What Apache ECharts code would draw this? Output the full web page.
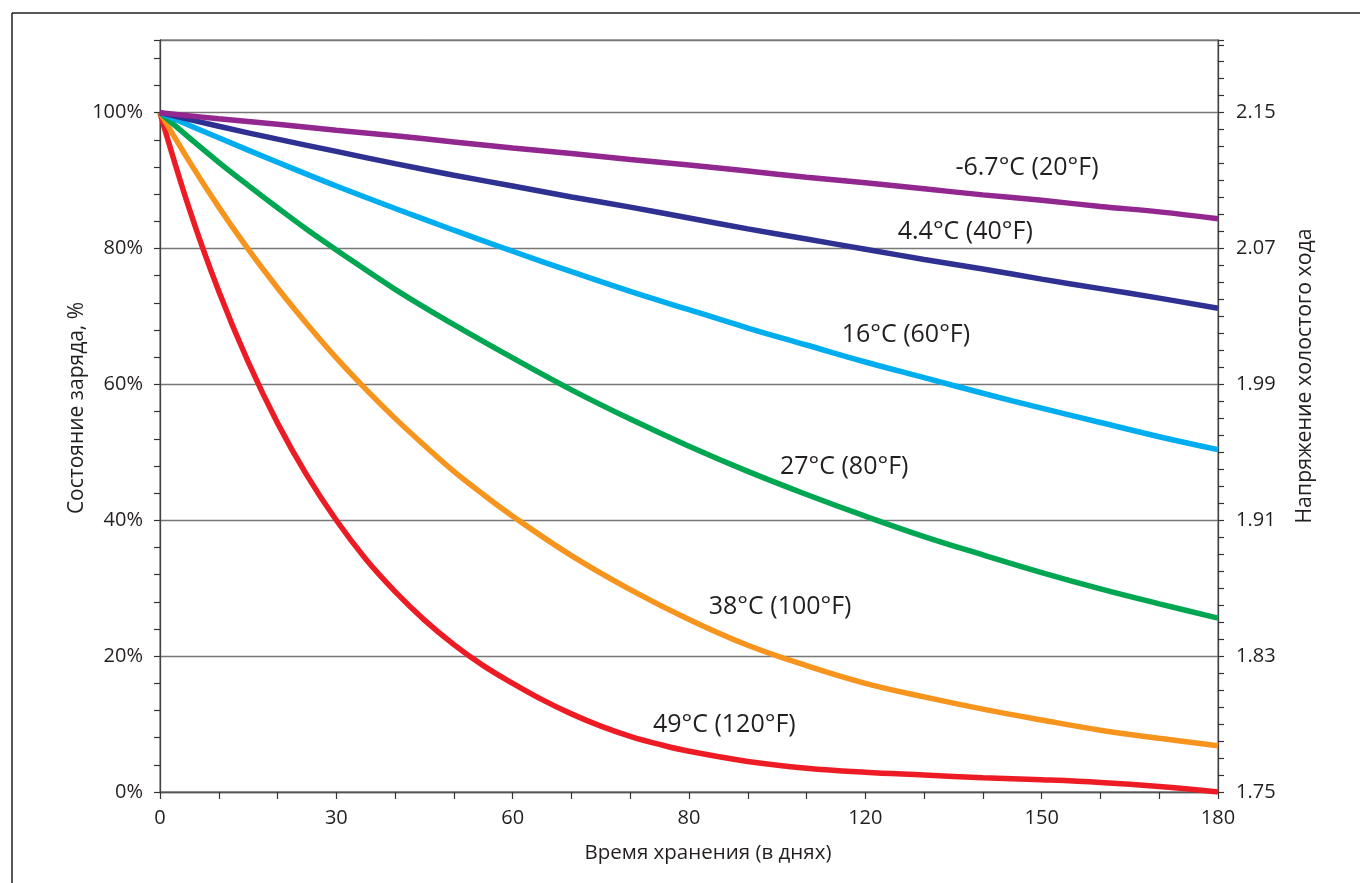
<!DOCTYPE html>
<html>
<head>
<meta charset="utf-8">
<script src="https://cdn.jsdelivr.net/npm/echarts@6/dist/echarts.min.js"></script>
<style>
html,body{margin:0;padding:0;background:#fff;}
#chart{width:1360px;height:883px;}
</style>
</head>
<body>
<div id="chart"></div>
<script>
// ---- data ----
const days = [0,10,20,30,40,50,60,70,80,90,100,110,120,130,140,150,160,170,180];
const socMinus6_7C = [100,99.1,98.3,97.4,96.6,95.7,94.8,94.0,93.1,92.3,91.4,90.5,89.7,88.8,87.9,87.1,86.2,85.4,84.4];
const soc4_4C = [100,98.0,96.1,94.3,92.5,90.8,89.2,87.6,86.1,84.5,82.9,81.4,79.9,78.4,77.0,75.5,74.1,72.7,71.2];
const soc16C = [100,96.3,92.7,89.2,85.9,82.7,79.6,76.6,73.7,71.0,68.3,65.8,63.3,61.0,58.7,56.5,54.4,52.3,50.4];
const daysGreen = [0,5,10,15,20,25,30,40,50,60,70,80,90,100,110,120,130,140,150,160,170,180];
const soc27C = [100,96.3,92.7,89.3,86.0,82.8,79.8,74.0,68.8,63.9,59.2,54.9,50.9,47.2,43.8,40.6,37.6,34.9,32.3,29.9,27.7,25.6];
const daysOrange = [0,5,10,15,20,25,30,35,40,45,50,55,60,70,80,90,100,110,120,130,140,150,160,170,180];
const soc38C = [100,92.8,86.1,79.9,74.2,68.9,63.9,59.3,55.0,51.0,47.2,43.8,40.6,34.8,29.8,25.4,21.6,18.6,16.0,14.0,12.2,10.6,9.1,7.9,6.8];
const daysRed = [0,5,10,15,20,25,30,35,40,45,50,55,60,65,70,75,80,85,90,100,110,120,130,140,150,160,170,180];
const soc49C = [100,85.8,73.7,63.3,54.3,46.6,40.0,34.3,29.5,25.3,21.7,18.6,16.0,13.6,11.5,9.7,8.2,7.0,6.0,4.5,3.5,2.9,2.5,2.1,1.8,1.4,0.8,0];
const seriesNames = ['-6.7°C (20°F)','4.4°C (40°F)','16°C (60°F)','27°C (80°F)','38°C (100°F)','49°C (120°F)'];
const xTickLabels = ['0','30','60','80','120','150','180'];
const yLeftTickLabels = ['0%','20%','40%','60%','80%','100%'];
const yRightTickLabels = ['1.75','1.83','1.91','1.99','2.07','2.15'];
// label anchors in data units [day, %]
const labelAnchors = [[147.5,91.9],[137,82.5],[126.9,67.3],[116.4,47.9],[105.5,27.3],[96,9.9]];

const colors = ['#92278F','#2E3192','#00AEEF','#00A651','#F7941D','#ED1C24'];
const allSeries = [
  [days, socMinus6_7C], [days, soc4_4C], [days, soc16C],
  [daysGreen, soc27C], [daysOrange, soc38C], [daysRed, soc49C]
];
const txt = '#231f20';
const fontMain = '"Open Sans", Roboto, sans-serif';

const chart = echarts.init(document.getElementById('chart'));
const yMax = 110.7;

const series = allSeries.map(([xs, vals], i) => ({
  name: seriesNames[i],
  type: 'line',
  smooth: 0.4,
  symbol: 'none',
  lineStyle: { color: colors[i], width: 5.5 },
  data: xs.map((d, j) => [d, vals[j]]),
  z: 10 - i,
  markPoint: {
    symbol: 'circle',
    symbolSize: 0,
    silent: true,
    label: {
      show: true,
      position: 'inside',
      formatter: seriesNames[i],
      color: txt,
      fontSize: 25,
      fontFamily: fontMain
    },
    data: [{ coord: labelAnchors[i] }]
  }
}));

const option = {
  animation: false,
  backgroundColor: '#fff',
  grid: { left: 160, right: 142, top: 40, bottom: 91, show: true, borderColor: '#555', borderWidth: 1, backgroundColor: 'transparent' },
  xAxis: {
    type: 'value', min: 0, max: 180, interval: 30,
    axisLine: { show: true, lineStyle: { color: '#555', width: 1.3 } },
    axisTick: { show: true, length: 7, lineStyle: { color: '#333', width: 1.2 } },
    minorTick: { show: true, splitNumber: 3, length: 7, lineStyle: { color: '#333', width: 1.2 } },
    splitLine: { show: false },
    axisLabel: { formatter: v => xTickLabels[Math.round(v / 30)], color: txt, fontSize: 20, fontFamily: fontMain, margin: 16 },
    name: 'Время хранения (в днях)', nameLocation: 'middle', nameGap: 51,
    nameTextStyle: { color: txt, fontSize: 20.5, fontFamily: fontMain, padding: [0, 0, 0, 38] }
  },
  yAxis: [
    {
      type: 'value', min: 0, max: yMax, interval: 20, position: 'left',
      axisLine: { show: true, lineStyle: { color: '#444', width: 1.3 } },
      axisTick: { show: true, length: 6, lineStyle: { color: '#333', width: 1.2 } },
      minorTick: { show: true, splitNumber: 5, length: 6, lineStyle: { color: '#333', width: 1.2 } },
      splitLine: { show: true, lineStyle: { color: '#777', width: 1.3 } },
      axisLabel: { showMaxLabel: false, formatter: v => { const k = Math.round(v / 20); return (Math.abs(v - k * 20) < 1e-6 && yLeftTickLabels[k]) ? yLeftTickLabels[k] : ''; }, color: txt, fontSize: 20, fontFamily: fontMain, margin: 17 },
      name: 'Состояние заряда, %', nameLocation: 'middle', nameGap: 72, nameRotate: 90, nameMoveOverlap: false,
      nameTextStyle: { color: txt, fontSize: 21, fontFamily: fontMain, padding: [0, 0, 0, 16] }
    },
    {
      type: 'value', min: 0, max: yMax, interval: 20, position: 'right',
      axisLine: { show: true, lineStyle: { color: '#444', width: 1.3 } },
      axisTick: { show: true, length: 6, lineStyle: { color: '#333', width: 1.2 } },
      minorTick: { show: true, splitNumber: 8, length: 6, lineStyle: { color: '#333', width: 1.2 } },
      splitLine: { show: false },
      axisLabel: { showMaxLabel: false, formatter: v => { const k = Math.round(v / 20); return (Math.abs(v - k * 20) < 1e-6 && yRightTickLabels[k]) ? yRightTickLabels[k] : ''; }, color: txt, fontSize: 20, fontFamily: fontMain, margin: 18 },
      name: 'Напряжение холостого хода', nameLocation: 'middle', nameGap: 76, nameRotate: 90,
      nameTextStyle: { color: txt, fontSize: 21.3, fontFamily: fontMain, padding: [0, 0, 0, 80] }
    }
  ],
  graphic: [
    { type: 'line', shape: { x1: 12, y1: 13, x2: 1360, y2: 13 }, style: { stroke: '#231f20', lineWidth: 1.5 } },
    { type: 'line', shape: { x1: 12, y1: 13, x2: 12, y2: 883 }, style: { stroke: '#231f20', lineWidth: 1.5 } }
  ],
  series: series
};
chart.setOption(option);
</script>
</body>
</html>
